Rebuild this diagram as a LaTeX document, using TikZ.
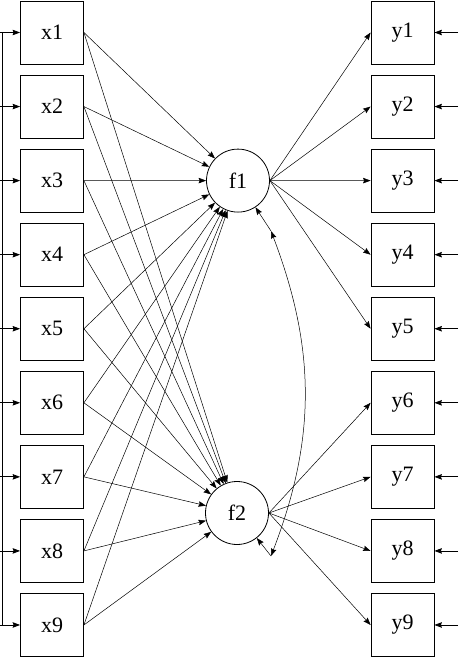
\documentclass[tikz,border=0pt]{standalone}
\usepackage{fontspec}
\setmainfont{Liberation Serif}
\usetikzlibrary{arrows.meta}
\begin{document}
\begin{tikzpicture}[x=1pt,y=-1pt,
  box/.style={draw, line width=0.8pt, minimum width=63pt, minimum height=63pt, inner sep=0pt, font=\fontsize{22}{26}\selectfont},
  fac/.style={draw, circle, line width=0.8pt, minimum size=63pt, inner sep=0pt, font=\fontsize{22}{26}\selectfont},
  tip/.tip={Stealth[length=7.5pt,width=5.5pt,inset=1pt]},
  conn/.style={line width=0.5pt, -tip},
  cov/.style={line width=0.5pt, tip-tip},
]
\useasboundingbox (0,0) rectangle (458,658);
\foreach \i in {1,...,9} {
  \pgfmathsetmacro{\yy}{32.5+74.06*(\i-1)}
  \node[box] (x\i) at (52,\yy) {x\i};
  \node[box] (y\i) at (402.5,\yy) {y\i};
  \coordinate (l\i) at (0,\yy);
  \coordinate (v\i) at (2.5,\yy);
  \coordinate (r\i) at (458,\yy);
}
\node[fac] (f1) at (238,180.6) {f1};
\node[fac] (f2) at (237,513) {f2};
\draw[line width=0.8pt] (v1) -- (v9);
\foreach \i in {1,...,9} {
  \draw[conn, line width=0.8pt] (l\i) -- (x\i.west);
  \draw[conn, line width=0.8pt] (r\i) -- (y\i.east);
  \draw[conn] (x\i.east) -- (f1);
  \draw[conn] (x\i.east) -- (f2);
}
\foreach \i in {1,...,5} { \draw[conn] (f1.east) -- (y\i.west); }
\foreach \i in {6,...,9} { \draw[conn] (f2.east) -- (y\i.west); }
\coordinate (e1) at (271,231);
\coordinate (e2) at (271,556);
\draw[conn] (e1) -- (f1);
\draw[conn] (e2) -- (f2);
\draw[cov] (e1) .. controls (316,349) and (316,439) .. (e2);
\end{tikzpicture}
\end{document}
